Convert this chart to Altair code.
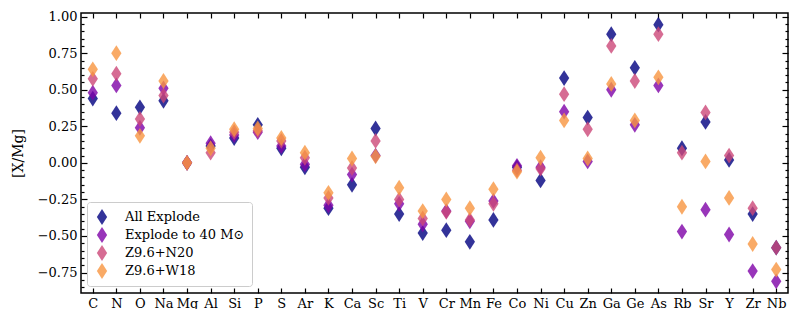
import altair as alt
import pandas as pd

elements = ["C", "N", "O", "Na", "Mg", "Al", "Si", "P", "S", "Ar", "K", "Ca", "Sc", "Ti", "V",
            "Cr", "Mn", "Fe", "Co", "Ni", "Cu", "Zn", "Ga", "Ge", "As", "Rb", "Sr", "Y", "Zr", "Nb"]

all_explode = [0.44, 0.34, 0.38, 0.425, 0.0, 0.115, 0.17, 0.26, 0.10, -0.03, -0.31, -0.15, 0.235, -0.35, -0.48,
               -0.46, -0.54, -0.39, -0.03, -0.12, 0.58, 0.31, 0.88, 0.65, 0.945, 0.10, 0.28, 0.02, -0.35, -0.58]
explode_40 = [0.48, 0.53, 0.24, 0.51, 0.0, 0.135, 0.19, 0.21, 0.115, -0.01, -0.29, -0.08, 0.05, -0.28, -0.42,
              -0.33, -0.40, -0.26, -0.02, -0.03, 0.35, 0.01, 0.50, 0.26, 0.53, -0.47, -0.32, -0.49, -0.74, -0.81]
z96_n20 = [0.575, 0.61, 0.30, 0.46, 0.0, 0.07, 0.21, 0.22, 0.15, 0.035, -0.24, -0.035, 0.15, -0.25, -0.38,
           -0.335, -0.39, -0.28, -0.05, -0.04, 0.47, 0.23, 0.80, 0.56, 0.88, 0.07, 0.345, 0.05, -0.31, -0.58]
z96_w18 = [0.64, 0.75, 0.185, 0.56, 0.0, 0.10, 0.23, 0.235, 0.17, 0.07, -0.205, 0.03, 0.045, -0.17, -0.33,
           -0.25, -0.31, -0.18, -0.06, 0.035, 0.29, 0.03, 0.54, 0.29, 0.585, -0.30, 0.01, -0.24, -0.555, -0.73]

series_names = ["All Explode", "Explode to 40 M\u2299", "Z9.6+N20", "Z9.6+W18"]
series_values = [all_explode, explode_40, z96_n20, z96_w18]
colors = ["#000080", "#7e03a8", "#cc4778", "#f89540"]
sizes = [250, 250, 170, 170]

rows = []
for name, vals in zip(series_names, series_values):
    for el, v in zip(elements, vals):
        rows.append({"element": el, "value": v, "series": name})
df = pd.DataFrame(rows)

W, H = 707, 280
FONT = "DejaVu Serif"
DIAMOND = "M0,-1L0.65,0L0,1L-0.65,0Z"

xscale = alt.Scale(domain=elements, padding=0.5)
yscale = alt.Scale(domain=[-0.89, 1.025], nice=False, zero=False)

major = [round(-0.75 + 0.25 * i, 2) for i in range(8)]
minor_all = [round(-0.85 + 0.05 * i, 2) for i in range(38)]
tick_cond = {"condition": {"test": "abs(datum.value*4 - round(datum.value*4)) < 0.001", "value": 6}, "value": 3}

legend = alt.Legend(title=None, orient="none", legendX=6, legendY=189, direction="vertical",
                    symbolType=DIAMOND, labelFont=FONT, labelFontSize=13, labelColor="black",
                    padding=7, rowPadding=2, labelOffset=15, strokeColor="#cccccc",
                    fillColor="rgba(255,255,255,0.8)", cornerRadius=3, symbolOpacity=0.8,
                    symbolStrokeWidth=0)

points = alt.Chart(df).mark_point(shape=DIAMOND, filled=True, opacity=0.8, strokeWidth=0).encode(
    x=alt.X("element:N", scale=xscale, sort=elements,
            axis=alt.Axis(orient="bottom", title=None, labelAngle=0, ticks=False, domain=False, grid=False,
                          labelPadding=4, labelFont=FONT, labelFontSize=13, labelColor="black",
                          labelOverlap=False)),
    y=alt.Y("value:Q", scale=yscale,
            axis=alt.Axis(orient="left", title="[X/Mg]", values=major, format=".2f", ticks=False,
                          domain=False, grid=False, labelPadding=4, labelFont=FONT, labelFontSize=13,
                          labelColor="black", titleFont=FONT, titleFontSize=14, titleFontWeight="normal",
                          titleColor="black", titlePadding=12)),
    color=alt.Color("series:N", scale=alt.Scale(domain=series_names, range=colors), legend=legend),
    size=alt.Size("series:N", scale=alt.Scale(domain=series_names, range=sizes), legend=legend),
)

ticks_a = alt.Chart(df).mark_point(opacity=0).encode(
    x=alt.X("element:N", scale=xscale, sort=elements,
            axis=alt.Axis(orient="top", offset=-H, labels=False, domain=False, grid=False, tickSize=5,
                          tickWidth=1.2, tickColor="black", title=None)),
    y=alt.Y("value:Q", scale=yscale,
            axis=alt.Axis(orient="right", offset=-W, values=minor_all, labels=False, domain=False,
                          grid=False, tickSize=tick_cond, tickWidth=1.2, tickColor="black", title=None)),
)

ticks_b = alt.Chart(df).mark_point(opacity=0).encode(
    x=alt.X("element:N", scale=xscale, sort=elements,
            axis=alt.Axis(orient="bottom", offset=-H, labels=False, domain=False, grid=False, tickSize=5,
                          tickWidth=1.2, tickColor="black", title=None)),
    y=alt.Y("value:Q", scale=yscale,
            axis=alt.Axis(orient="left", offset=-W, values=minor_all, labels=False, domain=False,
                          grid=False, tickSize=tick_cond, tickWidth=1.2, tickColor="black", title=None)),
)

chart = alt.layer(points, ticks_a, ticks_b).resolve_axis(
    x="independent", y="independent"
).properties(
    width=W, height=H,
    autosize=alt.AutoSizeParams(type="none"),
    padding={"left": 73, "top": 5, "right": 2, "bottom": 16},
).configure_view(stroke="black", strokeWidth=1.5)

chart.save("out.html", embed_options={"renderer": "svg", "actions": False})
